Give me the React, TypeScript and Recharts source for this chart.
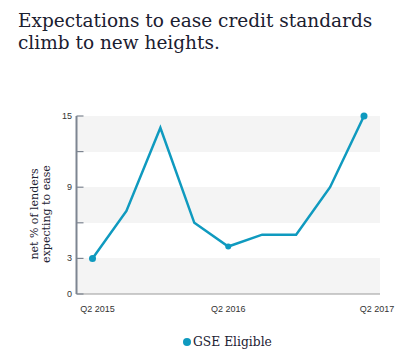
import { LineChart, Line, XAxis, YAxis, CartesianGrid } from "recharts";

const quarters = [
  "Q2 2015",
  "Q3 2015",
  "Q4 2015",
  "Q1 2016",
  "Q2 2016",
  "Q3 2016",
  "Q4 2016",
  "Q1 2017",
  "Q2 2017",
];
const gseEligible = [3, 7, 14, 6, 4, 5, 5, 9, 15];
const xLabels = ["Q2 2015", "Q2 2016", "Q2 2017"];
const yTicks = [0, 3, 6, 9, 12, 15];
const yLabels = [0, 3, 9, 15];

const data = quarters.map((q, i) => ({ q, value: gseEligible[i] }));

const LINE_COLOR = "#0f9abf";
const SERIF = "'DejaVu Serif', serif";
const SANS = "'Liberation Sans', Arial, sans-serif";

// small nudges so the x labels sit where the original puts them
const xLabelShift: Record<string, number> = {
  "Q2 2015": 5,
  "Q2 2016": 0,
  "Q2 2017": 13,
};

const XTick = (props: any) => {
  const { x, y, payload } = props;
  if (!xLabels.includes(payload.value)) return null;
  return (
    <text
      x={x + (xLabelShift[payload.value] || 0)}
      y={y}
      dy={9.5}
      textAnchor="middle"
      fontFamily={SANS}
      fontSize={9}
      fill="#333"
    >
      {payload.value}
    </text>
  );
};

const YTick = (props: any) => {
  const { x, y, payload } = props;
  return (
    <g>
      <line x1={x + 4} x2={x + 11} y1={y} y2={y} stroke="#7d8591" strokeWidth={1.2} />
      {yLabels.includes(payload.value) && (
        <text
          x={x - 0.5}
          y={y}
          dy={3}
          textAnchor="end"
          fontFamily={SANS}
          fontSize={9}
          fill="#333"
        >
          {payload.value}
        </text>
      )}
    </g>
  );
};

const YLabel = () => (
  <text
    transform="translate(39,214) rotate(-90)"
    textAnchor="middle"
    fontFamily={SERIF}
    fontSize={11}
    fill="#1d2233"
  >
    <tspan x={0} dy={-1}>net % of lenders</tspan>
    <tspan x={0} dy={11.5}>expecting to ease</tspan>
  </text>
);

const dotAt = (props: any) => {
  const { cx, cy, payload, index } = props;
  if (!xLabels.includes(payload.q)) return <g key={index} />;
  const r = payload.q === "Q2 2016" ? 3 : 3.5;
  return <circle key={index} cx={cx} cy={cy} r={r} fill={LINE_COLOR} stroke="none" />;
};

export default function App() {
  return (
    <div style={{ position: "relative", width: 407, height: 363, background: "#fff" }}>
      <style>{"body{margin:0}"}</style>
      <div
        style={{
          position: "absolute",
          left: 18,
          top: 10,
          fontFamily: SERIF,
          fontSize: 18.5,
          lineHeight: "22px",
          color: "#1b2030",
          letterSpacing: 0,
        }}
      >
        Expectations to ease credit standards
        <br />
        climb to new heights.
      </div>
      <div style={{ position: "absolute", left: 0, top: 0 }}>
        <LineChart
          width={407}
          height={363}
          data={data}
          margin={{ top: 116, right: 27, bottom: 49, left: 36 }}
        >
          <CartesianGrid
            vertical={false}
            stroke="none"
            horizontalFill={["#f4f4f4", "#ffffff"]}
          />
          <XAxis
            dataKey="q"
            interval={0}
            tick={<XTick />}
            tickLine={false}
            axisLine={{ stroke: "#9a9a9a", strokeWidth: 1 }}
            padding={{ left: 16, right: 16 }}
            height={20}
          />
          <YAxis
            domain={[0, 15]}
            ticks={yTicks}
            interval={0}
            width={40.5}
            tick={<YTick />}
            tickLine={false}
            tickSize={0}
            tickMargin={4}
            axisLine={{ stroke: "#7d8591", strokeWidth: 2 }}
          />
          <Line
            type="linear"
            dataKey="value"
            stroke={LINE_COLOR}
            strokeWidth={2.5}
            dot={dotAt}
            activeDot={false}
            isAnimationActive={false}
          />
          <YLabel />
        </LineChart>
      </div>
      <div
        style={{
          position: "absolute",
          left: 183,
          top: 335,
          display: "flex",
          alignItems: "center",
          fontFamily: SERIF,
          fontSize: 12.3,
          color: "#1d2233",
        }}
      >
        <span
          style={{
            display: "inline-block",
            width: 8,
            height: 8,
            borderRadius: 4,
            background: LINE_COLOR,
            marginRight: 2,
          }}
        />
        GSE Eligible
      </div>
    </div>
  );
}
